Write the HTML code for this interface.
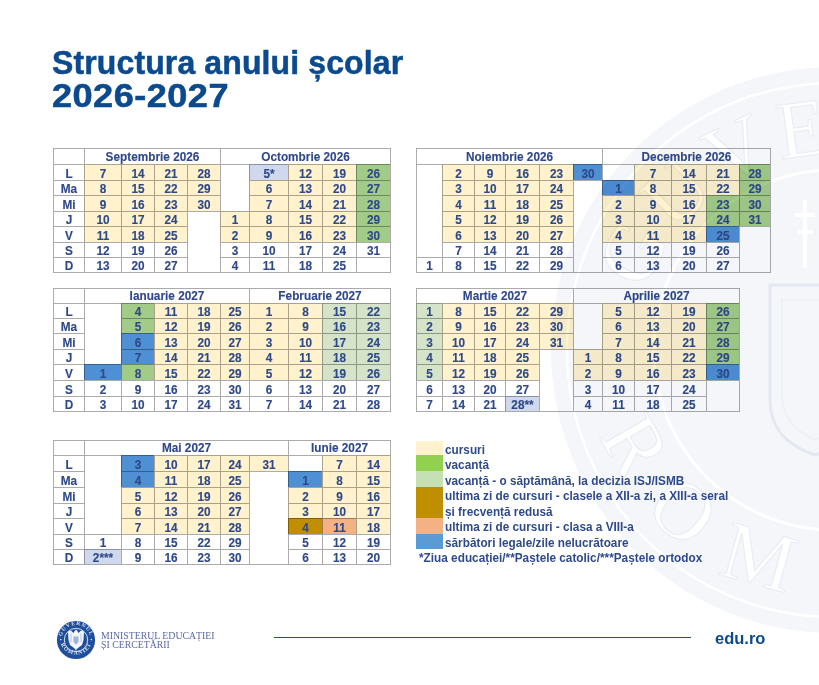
<!DOCTYPE html>
<html><head><meta charset="utf-8">
<style>
html,body{margin:0;padding:0;}
body{width:819px;height:685px;position:relative;overflow:hidden;background:#fff;font-family:"Liberation Sans",sans-serif;}
.c{position:absolute;box-sizing:border-box;mix-blend-mode:multiply;padding:1px 0 0 1px;color:#2E4888;-webkit-text-stroke:0.12px #2E4888;font-weight:bold;font-size:11.8px;text-align:center;white-space:nowrap;display:flex;align-items:center;justify-content:center;}
.c span{display:inline-block;transform:scaleY(1.08);}
.c:not(.h){padding-top:3px;}
.ln{position:absolute;background:rgba(0,0,0,0.33);}
.t{position:absolute;white-space:nowrap;}
.sw{position:absolute;left:416px;width:27px;mix-blend-mode:multiply;}
.lg{position:absolute;left:445px;color:#2F4A8A;font-weight:bold;font-size:11.8px;white-space:nowrap;line-height:15.5px;transform:scaleY(1.08);transform-origin:0 0;}
</style></head><body>

<svg style="position:absolute;left:0;top:0" width="819" height="685">
<defs><path id="arcT" d="M 638 350 A 196 196 0 0 1 1030 350"/><path id="arcB" d="M 587 350 A 247 247 0 0 0 1081 350"/></defs>
<circle cx="834" cy="350" r="283" fill="#F4F6FA"/>
<circle cx="834" cy="350" r="267" fill="none" stroke="#FFFFFF" stroke-width="2.5"/>
<circle cx="834" cy="350" r="180" fill="none" stroke="#FFFFFF" stroke-width="3"/>
<path d="M 770 285 L 860 285 L 860 400 Q 860 440 815 455 Q 770 440 770 400 Z" fill="none" stroke="#E4E8F0" stroke-width="3"/>
<path d="M 782 300 L 850 300 L 850 395 Q 850 425 815 440 Q 782 425 782 395 Z" fill="none" stroke="#EDF0F5" stroke-width="2"/>
<path d="M 805 200 L 805 268 M 795 215 L 815 215 M 797 232 L 813 232" stroke="#FFFFFF" stroke-width="4"/>
<text font-family="Liberation Serif" font-size="82" fill="#FFFFFF" stroke="#E9EDF4" stroke-width="1.2" letter-spacing="6" text-anchor="middle"><textPath href="#arcT" startOffset="50%">GUVERNUL</textPath></text>
<text font-family="Liberation Serif" font-size="82" fill="#FFFFFF" stroke="#E9EDF4" stroke-width="1.2" letter-spacing="34" text-anchor="middle"><textPath href="#arcB" startOffset="55%">ROMÂNIEI</textPath></text>
</svg>
<div class="t" style="left:52px;top:46.5px;font-size:32px;line-height:31.4px;font-weight:bold;color:#0B4A8E;-webkit-text-stroke:0.5px #0B4A8E;transform:scaleY(1.05);transform-origin:0 0;"><span style="letter-spacing:0.12px">Structura anului școlar</span><br><span style="display:inline-block;transform:scaleX(1.13);transform-origin:0 0;letter-spacing:0.4px">2026-2027</span></div>
<div class="c h" style="left:53px;top:148px;width:31px;height:16px;"><span></span></div>
<div class="c" style="left:53px;top:164px;width:31px;height:16px;"><span>L</span></div>
<div class="c" style="left:53px;top:180px;width:31px;height:15px;"><span>Ma</span></div>
<div class="c" style="left:53px;top:195px;width:31px;height:16px;"><span>Mi</span></div>
<div class="c" style="left:53px;top:211px;width:31px;height:15px;"><span>J</span></div>
<div class="c" style="left:53px;top:226px;width:31px;height:16px;"><span>V</span></div>
<div class="c" style="left:53px;top:242px;width:31px;height:15px;"><span>S</span></div>
<div class="c" style="left:53px;top:257px;width:31px;height:15px;"><span>D</span></div>
<div class="c h" style="left:84px;top:148px;width:136px;height:16px;"><span>Septembrie 2026</span></div>
<div class="c h" style="left:220px;top:148px;width:170px;height:16px;"><span>Octombrie 2026</span></div>
<div class="c" style="left:84px;top:164px;width:37px;height:16px;background:#FFF2CC;"><span>7</span></div>
<div class="c" style="left:84px;top:180px;width:37px;height:15px;background:#FFF2CC;"><span>8</span></div>
<div class="c" style="left:84px;top:195px;width:37px;height:16px;background:#FFF2CC;"><span>9</span></div>
<div class="c" style="left:84px;top:211px;width:37px;height:15px;background:#FFF2CC;"><span>10</span></div>
<div class="c" style="left:84px;top:226px;width:37px;height:16px;background:#FFF2CC;"><span>11</span></div>
<div class="c" style="left:84px;top:242px;width:37px;height:15px;"><span>12</span></div>
<div class="c" style="left:84px;top:257px;width:37px;height:15px;"><span>13</span></div>
<div class="c" style="left:121px;top:164px;width:33px;height:16px;background:#FFF2CC;"><span>14</span></div>
<div class="c" style="left:121px;top:180px;width:33px;height:15px;background:#FFF2CC;"><span>15</span></div>
<div class="c" style="left:121px;top:195px;width:33px;height:16px;background:#FFF2CC;"><span>16</span></div>
<div class="c" style="left:121px;top:211px;width:33px;height:15px;background:#FFF2CC;"><span>17</span></div>
<div class="c" style="left:121px;top:226px;width:33px;height:16px;background:#FFF2CC;"><span>18</span></div>
<div class="c" style="left:121px;top:242px;width:33px;height:15px;"><span>19</span></div>
<div class="c" style="left:121px;top:257px;width:33px;height:15px;"><span>20</span></div>
<div class="c" style="left:154px;top:164px;width:33px;height:16px;background:#FFF2CC;"><span>21</span></div>
<div class="c" style="left:154px;top:180px;width:33px;height:15px;background:#FFF2CC;"><span>22</span></div>
<div class="c" style="left:154px;top:195px;width:33px;height:16px;background:#FFF2CC;"><span>23</span></div>
<div class="c" style="left:154px;top:211px;width:33px;height:15px;background:#FFF2CC;"><span>24</span></div>
<div class="c" style="left:154px;top:226px;width:33px;height:16px;background:#FFF2CC;"><span>25</span></div>
<div class="c" style="left:154px;top:242px;width:33px;height:15px;"><span>26</span></div>
<div class="c" style="left:154px;top:257px;width:33px;height:15px;"><span>27</span></div>
<div class="c" style="left:187px;top:164px;width:33px;height:16px;background:#FFF2CC;"><span>28</span></div>
<div class="c" style="left:187px;top:180px;width:33px;height:15px;background:#FFF2CC;"><span>29</span></div>
<div class="c" style="left:187px;top:195px;width:33px;height:16px;background:#FFF2CC;"><span>30</span></div>
<div class="c" style="left:187px;top:211px;width:33px;height:61px;"><span></span></div>
<div class="c" style="left:220px;top:164px;width:29px;height:47px;"><span></span></div>
<div class="c" style="left:220px;top:211px;width:29px;height:15px;background:#FFF2CC;"><span>1</span></div>
<div class="c" style="left:220px;top:226px;width:29px;height:16px;background:#FFF2CC;"><span>2</span></div>
<div class="c" style="left:220px;top:242px;width:29px;height:15px;"><span>3</span></div>
<div class="c" style="left:220px;top:257px;width:29px;height:15px;"><span>4</span></div>
<div class="c" style="left:249px;top:164px;width:39px;height:16px;background:#D0D8EE;"><span>5*</span></div>
<div class="c" style="left:249px;top:180px;width:39px;height:15px;background:#FFF2CC;"><span>6</span></div>
<div class="c" style="left:249px;top:195px;width:39px;height:16px;background:#FFF2CC;"><span>7</span></div>
<div class="c" style="left:249px;top:211px;width:39px;height:15px;background:#FFF2CC;"><span>8</span></div>
<div class="c" style="left:249px;top:226px;width:39px;height:16px;background:#FFF2CC;"><span>9</span></div>
<div class="c" style="left:249px;top:242px;width:39px;height:15px;"><span>10</span></div>
<div class="c" style="left:249px;top:257px;width:39px;height:15px;"><span>11</span></div>
<div class="c" style="left:288px;top:164px;width:34px;height:16px;background:#FFF2CC;"><span>12</span></div>
<div class="c" style="left:288px;top:180px;width:34px;height:15px;background:#FFF2CC;"><span>13</span></div>
<div class="c" style="left:288px;top:195px;width:34px;height:16px;background:#FFF2CC;"><span>14</span></div>
<div class="c" style="left:288px;top:211px;width:34px;height:15px;background:#FFF2CC;"><span>15</span></div>
<div class="c" style="left:288px;top:226px;width:34px;height:16px;background:#FFF2CC;"><span>16</span></div>
<div class="c" style="left:288px;top:242px;width:34px;height:15px;"><span>17</span></div>
<div class="c" style="left:288px;top:257px;width:34px;height:15px;"><span>18</span></div>
<div class="c" style="left:322px;top:164px;width:34px;height:16px;background:#FFF2CC;"><span>19</span></div>
<div class="c" style="left:322px;top:180px;width:34px;height:15px;background:#FFF2CC;"><span>20</span></div>
<div class="c" style="left:322px;top:195px;width:34px;height:16px;background:#FFF2CC;"><span>21</span></div>
<div class="c" style="left:322px;top:211px;width:34px;height:15px;background:#FFF2CC;"><span>22</span></div>
<div class="c" style="left:322px;top:226px;width:34px;height:16px;background:#FFF2CC;"><span>23</span></div>
<div class="c" style="left:322px;top:242px;width:34px;height:15px;"><span>24</span></div>
<div class="c" style="left:322px;top:257px;width:34px;height:15px;"><span>25</span></div>
<div class="c" style="left:356px;top:164px;width:34px;height:16px;background:#A3CB88;"><span>26</span></div>
<div class="c" style="left:356px;top:180px;width:34px;height:15px;background:#A3CB88;"><span>27</span></div>
<div class="c" style="left:356px;top:195px;width:34px;height:16px;background:#A3CB88;"><span>28</span></div>
<div class="c" style="left:356px;top:211px;width:34px;height:15px;background:#A3CB88;"><span>29</span></div>
<div class="c" style="left:356px;top:226px;width:34px;height:16px;background:#A3CB88;"><span>30</span></div>
<div class="c" style="left:356px;top:242px;width:34px;height:15px;"><span>31</span></div>
<div class="c" style="left:356px;top:257px;width:34px;height:15px;"><span></span></div>
<div class="c h" style="left:416px;top:148px;width:186px;height:16px;"><span>Noiembrie 2026</span></div>
<div class="c h" style="left:602px;top:148px;width:168px;height:16px;"><span>Decembrie 2026</span></div>
<div class="c" style="left:416px;top:164px;width:26px;height:93px;"><span></span></div>
<div class="c" style="left:416px;top:257px;width:26px;height:15px;"><span>1</span></div>
<div class="c" style="left:442px;top:164px;width:32px;height:16px;background:#FFF2CC;"><span>2</span></div>
<div class="c" style="left:442px;top:180px;width:32px;height:15px;background:#FFF2CC;"><span>3</span></div>
<div class="c" style="left:442px;top:195px;width:32px;height:16px;background:#FFF2CC;"><span>4</span></div>
<div class="c" style="left:442px;top:211px;width:32px;height:15px;background:#FFF2CC;"><span>5</span></div>
<div class="c" style="left:442px;top:226px;width:32px;height:16px;background:#FFF2CC;"><span>6</span></div>
<div class="c" style="left:442px;top:242px;width:32px;height:15px;"><span>7</span></div>
<div class="c" style="left:442px;top:257px;width:32px;height:15px;"><span>8</span></div>
<div class="c" style="left:474px;top:164px;width:31px;height:16px;background:#FFF2CC;"><span>9</span></div>
<div class="c" style="left:474px;top:180px;width:31px;height:15px;background:#FFF2CC;"><span>10</span></div>
<div class="c" style="left:474px;top:195px;width:31px;height:16px;background:#FFF2CC;"><span>11</span></div>
<div class="c" style="left:474px;top:211px;width:31px;height:15px;background:#FFF2CC;"><span>12</span></div>
<div class="c" style="left:474px;top:226px;width:31px;height:16px;background:#FFF2CC;"><span>13</span></div>
<div class="c" style="left:474px;top:242px;width:31px;height:15px;"><span>14</span></div>
<div class="c" style="left:474px;top:257px;width:31px;height:15px;"><span>15</span></div>
<div class="c" style="left:505px;top:164px;width:34px;height:16px;background:#FFF2CC;"><span>16</span></div>
<div class="c" style="left:505px;top:180px;width:34px;height:15px;background:#FFF2CC;"><span>17</span></div>
<div class="c" style="left:505px;top:195px;width:34px;height:16px;background:#FFF2CC;"><span>18</span></div>
<div class="c" style="left:505px;top:211px;width:34px;height:15px;background:#FFF2CC;"><span>19</span></div>
<div class="c" style="left:505px;top:226px;width:34px;height:16px;background:#FFF2CC;"><span>20</span></div>
<div class="c" style="left:505px;top:242px;width:34px;height:15px;"><span>21</span></div>
<div class="c" style="left:505px;top:257px;width:34px;height:15px;"><span>22</span></div>
<div class="c" style="left:539px;top:164px;width:34px;height:16px;background:#FFF2CC;"><span>23</span></div>
<div class="c" style="left:539px;top:180px;width:34px;height:15px;background:#FFF2CC;"><span>24</span></div>
<div class="c" style="left:539px;top:195px;width:34px;height:16px;background:#FFF2CC;"><span>25</span></div>
<div class="c" style="left:539px;top:211px;width:34px;height:15px;background:#FFF2CC;"><span>26</span></div>
<div class="c" style="left:539px;top:226px;width:34px;height:16px;background:#FFF2CC;"><span>27</span></div>
<div class="c" style="left:539px;top:242px;width:34px;height:15px;"><span>28</span></div>
<div class="c" style="left:539px;top:257px;width:34px;height:15px;"><span>29</span></div>
<div class="c" style="left:573px;top:164px;width:29px;height:16px;background:#4F8FD4;"><span>30</span></div>
<div class="c" style="left:573px;top:180px;width:29px;height:92px;"><span></span></div>
<div class="c" style="left:602px;top:164px;width:32px;height:16px;"><span></span></div>
<div class="c" style="left:602px;top:180px;width:32px;height:15px;background:#4F8FD4;"><span>1</span></div>
<div class="c" style="left:602px;top:195px;width:32px;height:16px;background:#FFF2CC;"><span>2</span></div>
<div class="c" style="left:602px;top:211px;width:32px;height:15px;background:#FFF2CC;"><span>3</span></div>
<div class="c" style="left:602px;top:226px;width:32px;height:16px;background:#FFF2CC;"><span>4</span></div>
<div class="c" style="left:602px;top:242px;width:32px;height:15px;"><span>5</span></div>
<div class="c" style="left:602px;top:257px;width:32px;height:15px;"><span>6</span></div>
<div class="c" style="left:634px;top:164px;width:37px;height:16px;background:#FFF2CC;"><span>7</span></div>
<div class="c" style="left:634px;top:180px;width:37px;height:15px;background:#FFF2CC;"><span>8</span></div>
<div class="c" style="left:634px;top:195px;width:37px;height:16px;background:#FFF2CC;"><span>9</span></div>
<div class="c" style="left:634px;top:211px;width:37px;height:15px;background:#FFF2CC;"><span>10</span></div>
<div class="c" style="left:634px;top:226px;width:37px;height:16px;background:#FFF2CC;"><span>11</span></div>
<div class="c" style="left:634px;top:242px;width:37px;height:15px;"><span>12</span></div>
<div class="c" style="left:634px;top:257px;width:37px;height:15px;"><span>13</span></div>
<div class="c" style="left:671px;top:164px;width:35px;height:16px;background:#FFF2CC;"><span>14</span></div>
<div class="c" style="left:671px;top:180px;width:35px;height:15px;background:#FFF2CC;"><span>15</span></div>
<div class="c" style="left:671px;top:195px;width:35px;height:16px;background:#FFF2CC;"><span>16</span></div>
<div class="c" style="left:671px;top:211px;width:35px;height:15px;background:#FFF2CC;"><span>17</span></div>
<div class="c" style="left:671px;top:226px;width:35px;height:16px;background:#FFF2CC;"><span>18</span></div>
<div class="c" style="left:671px;top:242px;width:35px;height:15px;"><span>19</span></div>
<div class="c" style="left:671px;top:257px;width:35px;height:15px;"><span>20</span></div>
<div class="c" style="left:706px;top:164px;width:33px;height:16px;background:#FFF2CC;"><span>21</span></div>
<div class="c" style="left:706px;top:180px;width:33px;height:15px;background:#FFF2CC;"><span>22</span></div>
<div class="c" style="left:706px;top:195px;width:33px;height:16px;background:#A3CB88;"><span>23</span></div>
<div class="c" style="left:706px;top:211px;width:33px;height:15px;background:#A3CB88;"><span>24</span></div>
<div class="c" style="left:706px;top:226px;width:33px;height:16px;background:#4F8FD4;"><span>25</span></div>
<div class="c" style="left:706px;top:242px;width:33px;height:15px;"><span>26</span></div>
<div class="c" style="left:706px;top:257px;width:33px;height:15px;"><span>27</span></div>
<div class="c" style="left:739px;top:164px;width:31px;height:16px;background:#A3CB88;"><span>28</span></div>
<div class="c" style="left:739px;top:180px;width:31px;height:15px;background:#A3CB88;"><span>29</span></div>
<div class="c" style="left:739px;top:195px;width:31px;height:16px;background:#A3CB88;"><span>30</span></div>
<div class="c" style="left:739px;top:211px;width:31px;height:15px;background:#A3CB88;"><span>31</span></div>
<div class="c" style="left:739px;top:226px;width:31px;height:46px;"><span></span></div>
<div class="c h" style="left:53px;top:288px;width:31px;height:15px;"><span></span></div>
<div class="c" style="left:53px;top:303px;width:31px;height:15px;"><span>L</span></div>
<div class="c" style="left:53px;top:318px;width:31px;height:15px;"><span>Ma</span></div>
<div class="c" style="left:53px;top:333px;width:31px;height:16px;"><span>Mi</span></div>
<div class="c" style="left:53px;top:349px;width:31px;height:15px;"><span>J</span></div>
<div class="c" style="left:53px;top:364px;width:31px;height:16px;"><span>V</span></div>
<div class="c" style="left:53px;top:380px;width:31px;height:16px;"><span>S</span></div>
<div class="c" style="left:53px;top:396px;width:31px;height:15px;"><span>D</span></div>
<div class="c h" style="left:84px;top:288px;width:165px;height:15px;"><span>Ianuarie 2027</span></div>
<div class="c h" style="left:249px;top:288px;width:141px;height:15px;"><span>Februarie 2027</span></div>
<div class="c" style="left:84px;top:303px;width:37px;height:61px;"><span></span></div>
<div class="c" style="left:84px;top:364px;width:37px;height:16px;background:#4F8FD4;"><span>1</span></div>
<div class="c" style="left:84px;top:380px;width:37px;height:16px;"><span>2</span></div>
<div class="c" style="left:84px;top:396px;width:37px;height:15px;"><span>3</span></div>
<div class="c" style="left:121px;top:303px;width:33px;height:15px;background:#A3CB88;"><span>4</span></div>
<div class="c" style="left:121px;top:318px;width:33px;height:15px;background:#A3CB88;"><span>5</span></div>
<div class="c" style="left:121px;top:333px;width:33px;height:16px;background:#4F8FD4;"><span>6</span></div>
<div class="c" style="left:121px;top:349px;width:33px;height:15px;background:#4F8FD4;"><span>7</span></div>
<div class="c" style="left:121px;top:364px;width:33px;height:16px;background:#A3CB88;"><span>8</span></div>
<div class="c" style="left:121px;top:380px;width:33px;height:16px;"><span>9</span></div>
<div class="c" style="left:121px;top:396px;width:33px;height:15px;"><span>10</span></div>
<div class="c" style="left:154px;top:303px;width:33px;height:15px;background:#FFF2CC;"><span>11</span></div>
<div class="c" style="left:154px;top:318px;width:33px;height:15px;background:#FFF2CC;"><span>12</span></div>
<div class="c" style="left:154px;top:333px;width:33px;height:16px;background:#FFF2CC;"><span>13</span></div>
<div class="c" style="left:154px;top:349px;width:33px;height:15px;background:#FFF2CC;"><span>14</span></div>
<div class="c" style="left:154px;top:364px;width:33px;height:16px;background:#FFF2CC;"><span>15</span></div>
<div class="c" style="left:154px;top:380px;width:33px;height:16px;"><span>16</span></div>
<div class="c" style="left:154px;top:396px;width:33px;height:15px;"><span>17</span></div>
<div class="c" style="left:187px;top:303px;width:33px;height:15px;background:#FFF2CC;"><span>18</span></div>
<div class="c" style="left:187px;top:318px;width:33px;height:15px;background:#FFF2CC;"><span>19</span></div>
<div class="c" style="left:187px;top:333px;width:33px;height:16px;background:#FFF2CC;"><span>20</span></div>
<div class="c" style="left:187px;top:349px;width:33px;height:15px;background:#FFF2CC;"><span>21</span></div>
<div class="c" style="left:187px;top:364px;width:33px;height:16px;background:#FFF2CC;"><span>22</span></div>
<div class="c" style="left:187px;top:380px;width:33px;height:16px;"><span>23</span></div>
<div class="c" style="left:187px;top:396px;width:33px;height:15px;"><span>24</span></div>
<div class="c" style="left:220px;top:303px;width:29px;height:15px;background:#FFF2CC;"><span>25</span></div>
<div class="c" style="left:220px;top:318px;width:29px;height:15px;background:#FFF2CC;"><span>26</span></div>
<div class="c" style="left:220px;top:333px;width:29px;height:16px;background:#FFF2CC;"><span>27</span></div>
<div class="c" style="left:220px;top:349px;width:29px;height:15px;background:#FFF2CC;"><span>28</span></div>
<div class="c" style="left:220px;top:364px;width:29px;height:16px;background:#FFF2CC;"><span>29</span></div>
<div class="c" style="left:220px;top:380px;width:29px;height:16px;"><span>30</span></div>
<div class="c" style="left:220px;top:396px;width:29px;height:15px;"><span>31</span></div>
<div class="c" style="left:249px;top:303px;width:39px;height:15px;background:#FFF2CC;"><span>1</span></div>
<div class="c" style="left:249px;top:318px;width:39px;height:15px;background:#FFF2CC;"><span>2</span></div>
<div class="c" style="left:249px;top:333px;width:39px;height:16px;background:#FFF2CC;"><span>3</span></div>
<div class="c" style="left:249px;top:349px;width:39px;height:15px;background:#FFF2CC;"><span>4</span></div>
<div class="c" style="left:249px;top:364px;width:39px;height:16px;background:#FFF2CC;"><span>5</span></div>
<div class="c" style="left:249px;top:380px;width:39px;height:16px;"><span>6</span></div>
<div class="c" style="left:249px;top:396px;width:39px;height:15px;"><span>7</span></div>
<div class="c" style="left:288px;top:303px;width:34px;height:15px;background:#FFF2CC;"><span>8</span></div>
<div class="c" style="left:288px;top:318px;width:34px;height:15px;background:#FFF2CC;"><span>9</span></div>
<div class="c" style="left:288px;top:333px;width:34px;height:16px;background:#FFF2CC;"><span>10</span></div>
<div class="c" style="left:288px;top:349px;width:34px;height:15px;background:#FFF2CC;"><span>11</span></div>
<div class="c" style="left:288px;top:364px;width:34px;height:16px;background:#FFF2CC;"><span>12</span></div>
<div class="c" style="left:288px;top:380px;width:34px;height:16px;"><span>13</span></div>
<div class="c" style="left:288px;top:396px;width:34px;height:15px;"><span>14</span></div>
<div class="c" style="left:322px;top:303px;width:34px;height:15px;background:#D5E3C8;"><span>15</span></div>
<div class="c" style="left:322px;top:318px;width:34px;height:15px;background:#D5E3C8;"><span>16</span></div>
<div class="c" style="left:322px;top:333px;width:34px;height:16px;background:#D5E3C8;"><span>17</span></div>
<div class="c" style="left:322px;top:349px;width:34px;height:15px;background:#D5E3C8;"><span>18</span></div>
<div class="c" style="left:322px;top:364px;width:34px;height:16px;background:#D5E3C8;"><span>19</span></div>
<div class="c" style="left:322px;top:380px;width:34px;height:16px;"><span>20</span></div>
<div class="c" style="left:322px;top:396px;width:34px;height:15px;"><span>21</span></div>
<div class="c" style="left:356px;top:303px;width:34px;height:15px;background:#D5E3C8;"><span>22</span></div>
<div class="c" style="left:356px;top:318px;width:34px;height:15px;background:#D5E3C8;"><span>23</span></div>
<div class="c" style="left:356px;top:333px;width:34px;height:16px;background:#D5E3C8;"><span>24</span></div>
<div class="c" style="left:356px;top:349px;width:34px;height:15px;background:#D5E3C8;"><span>25</span></div>
<div class="c" style="left:356px;top:364px;width:34px;height:16px;background:#D5E3C8;"><span>26</span></div>
<div class="c" style="left:356px;top:380px;width:34px;height:16px;"><span>27</span></div>
<div class="c" style="left:356px;top:396px;width:34px;height:15px;"><span>28</span></div>
<div class="c h" style="left:416px;top:288px;width:157px;height:15px;"><span>Martie 2027</span></div>
<div class="c h" style="left:573px;top:288px;width:166px;height:15px;"><span>Aprilie 2027</span></div>
<div class="c" style="left:416px;top:303px;width:26px;height:15px;background:#D5E3C8;"><span>1</span></div>
<div class="c" style="left:416px;top:318px;width:26px;height:15px;background:#D5E3C8;"><span>2</span></div>
<div class="c" style="left:416px;top:333px;width:26px;height:16px;background:#D5E3C8;"><span>3</span></div>
<div class="c" style="left:416px;top:349px;width:26px;height:15px;background:#D5E3C8;"><span>4</span></div>
<div class="c" style="left:416px;top:364px;width:26px;height:16px;background:#D5E3C8;"><span>5</span></div>
<div class="c" style="left:416px;top:380px;width:26px;height:16px;"><span>6</span></div>
<div class="c" style="left:416px;top:396px;width:26px;height:15px;"><span>7</span></div>
<div class="c" style="left:442px;top:303px;width:32px;height:15px;background:#FFF2CC;"><span>8</span></div>
<div class="c" style="left:442px;top:318px;width:32px;height:15px;background:#FFF2CC;"><span>9</span></div>
<div class="c" style="left:442px;top:333px;width:32px;height:16px;background:#FFF2CC;"><span>10</span></div>
<div class="c" style="left:442px;top:349px;width:32px;height:15px;background:#FFF2CC;"><span>11</span></div>
<div class="c" style="left:442px;top:364px;width:32px;height:16px;background:#FFF2CC;"><span>12</span></div>
<div class="c" style="left:442px;top:380px;width:32px;height:16px;"><span>13</span></div>
<div class="c" style="left:442px;top:396px;width:32px;height:15px;"><span>14</span></div>
<div class="c" style="left:474px;top:303px;width:31px;height:15px;background:#FFF2CC;"><span>15</span></div>
<div class="c" style="left:474px;top:318px;width:31px;height:15px;background:#FFF2CC;"><span>16</span></div>
<div class="c" style="left:474px;top:333px;width:31px;height:16px;background:#FFF2CC;"><span>17</span></div>
<div class="c" style="left:474px;top:349px;width:31px;height:15px;background:#FFF2CC;"><span>18</span></div>
<div class="c" style="left:474px;top:364px;width:31px;height:16px;background:#FFF2CC;"><span>19</span></div>
<div class="c" style="left:474px;top:380px;width:31px;height:16px;"><span>20</span></div>
<div class="c" style="left:474px;top:396px;width:31px;height:15px;"><span>21</span></div>
<div class="c" style="left:505px;top:303px;width:34px;height:15px;background:#FFF2CC;"><span>22</span></div>
<div class="c" style="left:505px;top:318px;width:34px;height:15px;background:#FFF2CC;"><span>23</span></div>
<div class="c" style="left:505px;top:333px;width:34px;height:16px;background:#FFF2CC;"><span>24</span></div>
<div class="c" style="left:505px;top:349px;width:34px;height:15px;background:#FFF2CC;"><span>25</span></div>
<div class="c" style="left:505px;top:364px;width:34px;height:16px;background:#FFF2CC;"><span>26</span></div>
<div class="c" style="left:505px;top:380px;width:34px;height:16px;"><span>27</span></div>
<div class="c" style="left:505px;top:396px;width:34px;height:15px;background:#D0D8EE;"><span>28**</span></div>
<div class="c" style="left:539px;top:303px;width:34px;height:15px;background:#FFF2CC;"><span>29</span></div>
<div class="c" style="left:539px;top:318px;width:34px;height:15px;background:#FFF2CC;"><span>30</span></div>
<div class="c" style="left:539px;top:333px;width:34px;height:16px;background:#FFF2CC;"><span>31</span></div>
<div class="c" style="left:539px;top:349px;width:34px;height:62px;"><span></span></div>
<div class="c" style="left:573px;top:303px;width:29px;height:46px;"><span></span></div>
<div class="c" style="left:573px;top:349px;width:29px;height:15px;background:#FFF2CC;"><span>1</span></div>
<div class="c" style="left:573px;top:364px;width:29px;height:16px;background:#FFF2CC;"><span>2</span></div>
<div class="c" style="left:573px;top:380px;width:29px;height:16px;"><span>3</span></div>
<div class="c" style="left:573px;top:396px;width:29px;height:15px;"><span>4</span></div>
<div class="c" style="left:602px;top:303px;width:32px;height:15px;background:#FFF2CC;"><span>5</span></div>
<div class="c" style="left:602px;top:318px;width:32px;height:15px;background:#FFF2CC;"><span>6</span></div>
<div class="c" style="left:602px;top:333px;width:32px;height:16px;background:#FFF2CC;"><span>7</span></div>
<div class="c" style="left:602px;top:349px;width:32px;height:15px;background:#FFF2CC;"><span>8</span></div>
<div class="c" style="left:602px;top:364px;width:32px;height:16px;background:#FFF2CC;"><span>9</span></div>
<div class="c" style="left:602px;top:380px;width:32px;height:16px;"><span>10</span></div>
<div class="c" style="left:602px;top:396px;width:32px;height:15px;"><span>11</span></div>
<div class="c" style="left:634px;top:303px;width:37px;height:15px;background:#FFF2CC;"><span>12</span></div>
<div class="c" style="left:634px;top:318px;width:37px;height:15px;background:#FFF2CC;"><span>13</span></div>
<div class="c" style="left:634px;top:333px;width:37px;height:16px;background:#FFF2CC;"><span>14</span></div>
<div class="c" style="left:634px;top:349px;width:37px;height:15px;background:#FFF2CC;"><span>15</span></div>
<div class="c" style="left:634px;top:364px;width:37px;height:16px;background:#FFF2CC;"><span>16</span></div>
<div class="c" style="left:634px;top:380px;width:37px;height:16px;"><span>17</span></div>
<div class="c" style="left:634px;top:396px;width:37px;height:15px;"><span>18</span></div>
<div class="c" style="left:671px;top:303px;width:35px;height:15px;background:#FFF2CC;"><span>19</span></div>
<div class="c" style="left:671px;top:318px;width:35px;height:15px;background:#FFF2CC;"><span>20</span></div>
<div class="c" style="left:671px;top:333px;width:35px;height:16px;background:#FFF2CC;"><span>21</span></div>
<div class="c" style="left:671px;top:349px;width:35px;height:15px;background:#FFF2CC;"><span>22</span></div>
<div class="c" style="left:671px;top:364px;width:35px;height:16px;background:#FFF2CC;"><span>23</span></div>
<div class="c" style="left:671px;top:380px;width:35px;height:16px;"><span>24</span></div>
<div class="c" style="left:671px;top:396px;width:35px;height:15px;"><span>25</span></div>
<div class="c" style="left:706px;top:303px;width:33px;height:15px;background:#A3CB88;"><span>26</span></div>
<div class="c" style="left:706px;top:318px;width:33px;height:15px;background:#A3CB88;"><span>27</span></div>
<div class="c" style="left:706px;top:333px;width:33px;height:16px;background:#A3CB88;"><span>28</span></div>
<div class="c" style="left:706px;top:349px;width:33px;height:15px;background:#A3CB88;"><span>29</span></div>
<div class="c" style="left:706px;top:364px;width:33px;height:16px;background:#4F8FD4;"><span>30</span></div>
<div class="c" style="left:706px;top:380px;width:33px;height:31px;"><span></span></div>
<div class="c h" style="left:53px;top:440px;width:31px;height:15px;"><span></span></div>
<div class="c" style="left:53px;top:455px;width:31px;height:16px;"><span>L</span></div>
<div class="c" style="left:53px;top:471px;width:31px;height:16px;"><span>Ma</span></div>
<div class="c" style="left:53px;top:487px;width:31px;height:16px;"><span>Mi</span></div>
<div class="c" style="left:53px;top:503px;width:31px;height:15px;"><span>J</span></div>
<div class="c" style="left:53px;top:518px;width:31px;height:16px;"><span>V</span></div>
<div class="c" style="left:53px;top:534px;width:31px;height:15px;"><span>S</span></div>
<div class="c" style="left:53px;top:549px;width:31px;height:15px;"><span>D</span></div>
<div class="c h" style="left:84px;top:440px;width:204px;height:15px;"><span>Mai 2027</span></div>
<div class="c h" style="left:288px;top:440px;width:102px;height:15px;"><span>Iunie 2027</span></div>
<div class="c" style="left:84px;top:455px;width:37px;height:79px;"><span></span></div>
<div class="c" style="left:84px;top:534px;width:37px;height:15px;"><span>1</span></div>
<div class="c" style="left:84px;top:549px;width:37px;height:15px;background:#D0D8EE;"><span>2***</span></div>
<div class="c" style="left:121px;top:455px;width:33px;height:16px;background:#4F8FD4;"><span>3</span></div>
<div class="c" style="left:121px;top:471px;width:33px;height:16px;background:#4F8FD4;"><span>4</span></div>
<div class="c" style="left:121px;top:487px;width:33px;height:16px;background:#FFF2CC;"><span>5</span></div>
<div class="c" style="left:121px;top:503px;width:33px;height:15px;background:#FFF2CC;"><span>6</span></div>
<div class="c" style="left:121px;top:518px;width:33px;height:16px;background:#FFF2CC;"><span>7</span></div>
<div class="c" style="left:121px;top:534px;width:33px;height:15px;"><span>8</span></div>
<div class="c" style="left:121px;top:549px;width:33px;height:15px;"><span>9</span></div>
<div class="c" style="left:154px;top:455px;width:33px;height:16px;background:#FFF2CC;"><span>10</span></div>
<div class="c" style="left:154px;top:471px;width:33px;height:16px;background:#FFF2CC;"><span>11</span></div>
<div class="c" style="left:154px;top:487px;width:33px;height:16px;background:#FFF2CC;"><span>12</span></div>
<div class="c" style="left:154px;top:503px;width:33px;height:15px;background:#FFF2CC;"><span>13</span></div>
<div class="c" style="left:154px;top:518px;width:33px;height:16px;background:#FFF2CC;"><span>14</span></div>
<div class="c" style="left:154px;top:534px;width:33px;height:15px;"><span>15</span></div>
<div class="c" style="left:154px;top:549px;width:33px;height:15px;"><span>16</span></div>
<div class="c" style="left:187px;top:455px;width:33px;height:16px;background:#FFF2CC;"><span>17</span></div>
<div class="c" style="left:187px;top:471px;width:33px;height:16px;background:#FFF2CC;"><span>18</span></div>
<div class="c" style="left:187px;top:487px;width:33px;height:16px;background:#FFF2CC;"><span>19</span></div>
<div class="c" style="left:187px;top:503px;width:33px;height:15px;background:#FFF2CC;"><span>20</span></div>
<div class="c" style="left:187px;top:518px;width:33px;height:16px;background:#FFF2CC;"><span>21</span></div>
<div class="c" style="left:187px;top:534px;width:33px;height:15px;"><span>22</span></div>
<div class="c" style="left:187px;top:549px;width:33px;height:15px;"><span>23</span></div>
<div class="c" style="left:220px;top:455px;width:29px;height:16px;background:#FFF2CC;"><span>24</span></div>
<div class="c" style="left:220px;top:471px;width:29px;height:16px;background:#FFF2CC;"><span>25</span></div>
<div class="c" style="left:220px;top:487px;width:29px;height:16px;background:#FFF2CC;"><span>26</span></div>
<div class="c" style="left:220px;top:503px;width:29px;height:15px;background:#FFF2CC;"><span>27</span></div>
<div class="c" style="left:220px;top:518px;width:29px;height:16px;background:#FFF2CC;"><span>28</span></div>
<div class="c" style="left:220px;top:534px;width:29px;height:15px;"><span>29</span></div>
<div class="c" style="left:220px;top:549px;width:29px;height:15px;"><span>30</span></div>
<div class="c" style="left:249px;top:455px;width:39px;height:16px;background:#FFF2CC;"><span>31</span></div>
<div class="c" style="left:249px;top:471px;width:39px;height:93px;"><span></span></div>
<div class="c" style="left:288px;top:455px;width:34px;height:16px;"><span></span></div>
<div class="c" style="left:288px;top:471px;width:34px;height:16px;background:#4F8FD4;"><span>1</span></div>
<div class="c" style="left:288px;top:487px;width:34px;height:16px;background:#FFF2CC;"><span>2</span></div>
<div class="c" style="left:288px;top:503px;width:34px;height:15px;background:#FFF2CC;"><span>3</span></div>
<div class="c" style="left:288px;top:518px;width:34px;height:16px;background:#BF8F00;"><span>4</span></div>
<div class="c" style="left:288px;top:534px;width:34px;height:15px;"><span>5</span></div>
<div class="c" style="left:288px;top:549px;width:34px;height:15px;"><span>6</span></div>
<div class="c" style="left:322px;top:455px;width:34px;height:16px;background:#FFF2CC;"><span>7</span></div>
<div class="c" style="left:322px;top:471px;width:34px;height:16px;background:#FFF2CC;"><span>8</span></div>
<div class="c" style="left:322px;top:487px;width:34px;height:16px;background:#FFF2CC;"><span>9</span></div>
<div class="c" style="left:322px;top:503px;width:34px;height:15px;background:#FFF2CC;"><span>10</span></div>
<div class="c" style="left:322px;top:518px;width:34px;height:16px;background:#F4B183;"><span>11</span></div>
<div class="c" style="left:322px;top:534px;width:34px;height:15px;"><span>12</span></div>
<div class="c" style="left:322px;top:549px;width:34px;height:15px;"><span>13</span></div>
<div class="c" style="left:356px;top:455px;width:34px;height:16px;background:#FFF2CC;"><span>14</span></div>
<div class="c" style="left:356px;top:471px;width:34px;height:16px;background:#FFF2CC;"><span>15</span></div>
<div class="c" style="left:356px;top:487px;width:34px;height:16px;background:#FFF2CC;"><span>16</span></div>
<div class="c" style="left:356px;top:503px;width:34px;height:15px;background:#FFF2CC;"><span>17</span></div>
<div class="c" style="left:356px;top:518px;width:34px;height:16px;background:#FFF2CC;"><span>18</span></div>
<div class="c" style="left:356px;top:534px;width:34px;height:15px;"><span>19</span></div>
<div class="c" style="left:356px;top:549px;width:34px;height:15px;"><span>20</span></div>
<div class="ln" style="left:53px;top:211px;width:338px;height:1px"></div>
<div class="ln" style="left:442px;top:211px;width:132px;height:1px"></div>
<div class="ln" style="left:602px;top:211px;width:169px;height:1px"></div>
<div class="ln" style="left:53px;top:380px;width:338px;height:1px"></div>
<div class="ln" style="left:416px;top:380px;width:124px;height:1px"></div>
<div class="ln" style="left:573px;top:380px;width:167px;height:1px"></div>
<div class="ln" style="left:53px;top:396px;width:338px;height:1px"></div>
<div class="ln" style="left:416px;top:396px;width:124px;height:1px"></div>
<div class="ln" style="left:573px;top:396px;width:134px;height:1px"></div>
<div class="ln" style="left:53px;top:148px;width:338px;height:1px"></div>
<div class="ln" style="left:416px;top:148px;width:355px;height:1px"></div>
<div class="ln" style="left:53px;top:440px;width:338px;height:1px"></div>
<div class="ln" style="left:53px;top:318px;width:32px;height:1px"></div>
<div class="ln" style="left:121px;top:318px;width:270px;height:1px"></div>
<div class="ln" style="left:416px;top:318px;width:158px;height:1px"></div>
<div class="ln" style="left:602px;top:318px;width:138px;height:1px"></div>
<div class="ln" style="left:53px;top:564px;width:338px;height:1px"></div>
<div class="ln" style="left:53px;top:333px;width:32px;height:1px"></div>
<div class="ln" style="left:121px;top:333px;width:270px;height:1px"></div>
<div class="ln" style="left:416px;top:333px;width:158px;height:1px"></div>
<div class="ln" style="left:602px;top:333px;width:138px;height:1px"></div>
<div class="ln" style="left:53px;top:272px;width:338px;height:1px"></div>
<div class="ln" style="left:416px;top:272px;width:355px;height:1px"></div>
<div class="ln" style="left:53px;top:164px;width:338px;height:1px"></div>
<div class="ln" style="left:416px;top:164px;width:355px;height:1px"></div>
<div class="ln" style="left:53px;top:195px;width:168px;height:1px"></div>
<div class="ln" style="left:249px;top:195px;width:142px;height:1px"></div>
<div class="ln" style="left:442px;top:195px;width:132px;height:1px"></div>
<div class="ln" style="left:602px;top:195px;width:169px;height:1px"></div>
<div class="ln" style="left:53px;top:349px;width:32px;height:1px"></div>
<div class="ln" style="left:121px;top:349px;width:270px;height:1px"></div>
<div class="ln" style="left:416px;top:349px;width:324px;height:1px"></div>
<div class="ln" style="left:53px;top:226px;width:135px;height:1px"></div>
<div class="ln" style="left:220px;top:226px;width:171px;height:1px"></div>
<div class="ln" style="left:442px;top:226px;width:132px;height:1px"></div>
<div class="ln" style="left:602px;top:226px;width:169px;height:1px"></div>
<div class="ln" style="left:53px;top:288px;width:338px;height:1px"></div>
<div class="ln" style="left:416px;top:288px;width:324px;height:1px"></div>
<div class="ln" style="left:53px;top:503px;width:32px;height:1px"></div>
<div class="ln" style="left:121px;top:503px;width:129px;height:1px"></div>
<div class="ln" style="left:288px;top:503px;width:103px;height:1px"></div>
<div class="ln" style="left:53px;top:411px;width:338px;height:1px"></div>
<div class="ln" style="left:416px;top:411px;width:324px;height:1px"></div>
<div class="ln" style="left:53px;top:242px;width:135px;height:1px"></div>
<div class="ln" style="left:220px;top:242px;width:171px;height:1px"></div>
<div class="ln" style="left:442px;top:242px;width:132px;height:1px"></div>
<div class="ln" style="left:602px;top:242px;width:138px;height:1px"></div>
<div class="ln" style="left:53px;top:455px;width:338px;height:1px"></div>
<div class="ln" style="left:53px;top:471px;width:32px;height:1px"></div>
<div class="ln" style="left:121px;top:471px;width:270px;height:1px"></div>
<div class="ln" style="left:53px;top:364px;width:338px;height:1px"></div>
<div class="ln" style="left:416px;top:364px;width:124px;height:1px"></div>
<div class="ln" style="left:573px;top:364px;width:167px;height:1px"></div>
<div class="ln" style="left:53px;top:303px;width:338px;height:1px"></div>
<div class="ln" style="left:416px;top:303px;width:324px;height:1px"></div>
<div class="ln" style="left:53px;top:534px;width:197px;height:1px"></div>
<div class="ln" style="left:288px;top:534px;width:103px;height:1px"></div>
<div class="ln" style="left:53px;top:180px;width:168px;height:1px"></div>
<div class="ln" style="left:249px;top:180px;width:142px;height:1px"></div>
<div class="ln" style="left:442px;top:180px;width:329px;height:1px"></div>
<div class="ln" style="left:53px;top:257px;width:135px;height:1px"></div>
<div class="ln" style="left:220px;top:257px;width:171px;height:1px"></div>
<div class="ln" style="left:416px;top:257px;width:158px;height:1px"></div>
<div class="ln" style="left:602px;top:257px;width:138px;height:1px"></div>
<div class="ln" style="left:53px;top:487px;width:32px;height:1px"></div>
<div class="ln" style="left:121px;top:487px;width:129px;height:1px"></div>
<div class="ln" style="left:288px;top:487px;width:103px;height:1px"></div>
<div class="ln" style="left:53px;top:549px;width:197px;height:1px"></div>
<div class="ln" style="left:288px;top:549px;width:103px;height:1px"></div>
<div class="ln" style="left:53px;top:518px;width:32px;height:1px"></div>
<div class="ln" style="left:121px;top:518px;width:129px;height:1px"></div>
<div class="ln" style="left:288px;top:518px;width:103px;height:1px"></div>
<div class="ln" style="left:416px;top:149px;width:1px;height:15px"></div>
<div class="ln" style="left:416px;top:165px;width:1px;height:92px"></div>
<div class="ln" style="left:416px;top:258px;width:1px;height:14px"></div>
<div class="ln" style="left:416px;top:289px;width:1px;height:14px"></div>
<div class="ln" style="left:416px;top:304px;width:1px;height:14px"></div>
<div class="ln" style="left:416px;top:319px;width:1px;height:14px"></div>
<div class="ln" style="left:416px;top:334px;width:1px;height:15px"></div>
<div class="ln" style="left:416px;top:350px;width:1px;height:14px"></div>
<div class="ln" style="left:416px;top:365px;width:1px;height:15px"></div>
<div class="ln" style="left:416px;top:381px;width:1px;height:15px"></div>
<div class="ln" style="left:416px;top:397px;width:1px;height:14px"></div>
<div class="ln" style="left:53px;top:149px;width:1px;height:15px"></div>
<div class="ln" style="left:53px;top:165px;width:1px;height:15px"></div>
<div class="ln" style="left:53px;top:181px;width:1px;height:14px"></div>
<div class="ln" style="left:53px;top:196px;width:1px;height:15px"></div>
<div class="ln" style="left:53px;top:212px;width:1px;height:14px"></div>
<div class="ln" style="left:53px;top:227px;width:1px;height:15px"></div>
<div class="ln" style="left:53px;top:243px;width:1px;height:14px"></div>
<div class="ln" style="left:53px;top:258px;width:1px;height:14px"></div>
<div class="ln" style="left:53px;top:289px;width:1px;height:14px"></div>
<div class="ln" style="left:53px;top:304px;width:1px;height:14px"></div>
<div class="ln" style="left:53px;top:319px;width:1px;height:14px"></div>
<div class="ln" style="left:53px;top:334px;width:1px;height:15px"></div>
<div class="ln" style="left:53px;top:350px;width:1px;height:14px"></div>
<div class="ln" style="left:53px;top:365px;width:1px;height:15px"></div>
<div class="ln" style="left:53px;top:381px;width:1px;height:15px"></div>
<div class="ln" style="left:53px;top:397px;width:1px;height:14px"></div>
<div class="ln" style="left:53px;top:441px;width:1px;height:14px"></div>
<div class="ln" style="left:53px;top:456px;width:1px;height:15px"></div>
<div class="ln" style="left:53px;top:472px;width:1px;height:15px"></div>
<div class="ln" style="left:53px;top:488px;width:1px;height:15px"></div>
<div class="ln" style="left:53px;top:504px;width:1px;height:14px"></div>
<div class="ln" style="left:53px;top:519px;width:1px;height:15px"></div>
<div class="ln" style="left:53px;top:535px;width:1px;height:14px"></div>
<div class="ln" style="left:53px;top:550px;width:1px;height:14px"></div>
<div class="ln" style="left:84px;top:149px;width:1px;height:15px"></div>
<div class="ln" style="left:84px;top:165px;width:1px;height:15px"></div>
<div class="ln" style="left:84px;top:181px;width:1px;height:14px"></div>
<div class="ln" style="left:84px;top:196px;width:1px;height:15px"></div>
<div class="ln" style="left:84px;top:212px;width:1px;height:14px"></div>
<div class="ln" style="left:84px;top:227px;width:1px;height:15px"></div>
<div class="ln" style="left:84px;top:243px;width:1px;height:14px"></div>
<div class="ln" style="left:84px;top:258px;width:1px;height:14px"></div>
<div class="ln" style="left:84px;top:289px;width:1px;height:14px"></div>
<div class="ln" style="left:84px;top:304px;width:1px;height:14px"></div>
<div class="ln" style="left:84px;top:319px;width:1px;height:14px"></div>
<div class="ln" style="left:84px;top:334px;width:1px;height:15px"></div>
<div class="ln" style="left:84px;top:350px;width:1px;height:14px"></div>
<div class="ln" style="left:84px;top:365px;width:1px;height:15px"></div>
<div class="ln" style="left:84px;top:381px;width:1px;height:15px"></div>
<div class="ln" style="left:84px;top:397px;width:1px;height:14px"></div>
<div class="ln" style="left:84px;top:441px;width:1px;height:14px"></div>
<div class="ln" style="left:84px;top:456px;width:1px;height:15px"></div>
<div class="ln" style="left:84px;top:472px;width:1px;height:15px"></div>
<div class="ln" style="left:84px;top:488px;width:1px;height:15px"></div>
<div class="ln" style="left:84px;top:504px;width:1px;height:14px"></div>
<div class="ln" style="left:84px;top:519px;width:1px;height:15px"></div>
<div class="ln" style="left:84px;top:535px;width:1px;height:14px"></div>
<div class="ln" style="left:84px;top:550px;width:1px;height:14px"></div>
<div class="ln" style="left:220px;top:149px;width:1px;height:15px"></div>
<div class="ln" style="left:220px;top:165px;width:1px;height:15px"></div>
<div class="ln" style="left:220px;top:181px;width:1px;height:14px"></div>
<div class="ln" style="left:220px;top:196px;width:1px;height:15px"></div>
<div class="ln" style="left:220px;top:212px;width:1px;height:14px"></div>
<div class="ln" style="left:220px;top:227px;width:1px;height:15px"></div>
<div class="ln" style="left:220px;top:243px;width:1px;height:14px"></div>
<div class="ln" style="left:220px;top:258px;width:1px;height:14px"></div>
<div class="ln" style="left:220px;top:304px;width:1px;height:14px"></div>
<div class="ln" style="left:220px;top:319px;width:1px;height:14px"></div>
<div class="ln" style="left:220px;top:334px;width:1px;height:15px"></div>
<div class="ln" style="left:220px;top:350px;width:1px;height:14px"></div>
<div class="ln" style="left:220px;top:365px;width:1px;height:15px"></div>
<div class="ln" style="left:220px;top:381px;width:1px;height:15px"></div>
<div class="ln" style="left:220px;top:397px;width:1px;height:14px"></div>
<div class="ln" style="left:220px;top:456px;width:1px;height:15px"></div>
<div class="ln" style="left:220px;top:472px;width:1px;height:15px"></div>
<div class="ln" style="left:220px;top:488px;width:1px;height:15px"></div>
<div class="ln" style="left:220px;top:504px;width:1px;height:14px"></div>
<div class="ln" style="left:220px;top:519px;width:1px;height:15px"></div>
<div class="ln" style="left:220px;top:535px;width:1px;height:14px"></div>
<div class="ln" style="left:220px;top:550px;width:1px;height:14px"></div>
<div class="ln" style="left:390px;top:149px;width:1px;height:15px"></div>
<div class="ln" style="left:390px;top:165px;width:1px;height:15px"></div>
<div class="ln" style="left:390px;top:181px;width:1px;height:14px"></div>
<div class="ln" style="left:390px;top:196px;width:1px;height:15px"></div>
<div class="ln" style="left:390px;top:212px;width:1px;height:14px"></div>
<div class="ln" style="left:390px;top:227px;width:1px;height:15px"></div>
<div class="ln" style="left:390px;top:243px;width:1px;height:14px"></div>
<div class="ln" style="left:390px;top:258px;width:1px;height:14px"></div>
<div class="ln" style="left:390px;top:289px;width:1px;height:14px"></div>
<div class="ln" style="left:390px;top:304px;width:1px;height:14px"></div>
<div class="ln" style="left:390px;top:319px;width:1px;height:14px"></div>
<div class="ln" style="left:390px;top:334px;width:1px;height:15px"></div>
<div class="ln" style="left:390px;top:350px;width:1px;height:14px"></div>
<div class="ln" style="left:390px;top:365px;width:1px;height:15px"></div>
<div class="ln" style="left:390px;top:381px;width:1px;height:15px"></div>
<div class="ln" style="left:390px;top:397px;width:1px;height:14px"></div>
<div class="ln" style="left:390px;top:441px;width:1px;height:14px"></div>
<div class="ln" style="left:390px;top:456px;width:1px;height:15px"></div>
<div class="ln" style="left:390px;top:472px;width:1px;height:15px"></div>
<div class="ln" style="left:390px;top:488px;width:1px;height:15px"></div>
<div class="ln" style="left:390px;top:504px;width:1px;height:14px"></div>
<div class="ln" style="left:390px;top:519px;width:1px;height:15px"></div>
<div class="ln" style="left:390px;top:535px;width:1px;height:14px"></div>
<div class="ln" style="left:390px;top:550px;width:1px;height:14px"></div>
<div class="ln" style="left:602px;top:149px;width:1px;height:15px"></div>
<div class="ln" style="left:602px;top:165px;width:1px;height:15px"></div>
<div class="ln" style="left:602px;top:181px;width:1px;height:14px"></div>
<div class="ln" style="left:602px;top:196px;width:1px;height:15px"></div>
<div class="ln" style="left:602px;top:212px;width:1px;height:14px"></div>
<div class="ln" style="left:602px;top:227px;width:1px;height:15px"></div>
<div class="ln" style="left:602px;top:243px;width:1px;height:14px"></div>
<div class="ln" style="left:602px;top:258px;width:1px;height:14px"></div>
<div class="ln" style="left:602px;top:304px;width:1px;height:14px"></div>
<div class="ln" style="left:602px;top:319px;width:1px;height:14px"></div>
<div class="ln" style="left:602px;top:334px;width:1px;height:15px"></div>
<div class="ln" style="left:602px;top:350px;width:1px;height:14px"></div>
<div class="ln" style="left:602px;top:365px;width:1px;height:15px"></div>
<div class="ln" style="left:602px;top:381px;width:1px;height:15px"></div>
<div class="ln" style="left:602px;top:397px;width:1px;height:14px"></div>
<div class="ln" style="left:770px;top:149px;width:1px;height:15px"></div>
<div class="ln" style="left:770px;top:165px;width:1px;height:15px"></div>
<div class="ln" style="left:770px;top:181px;width:1px;height:14px"></div>
<div class="ln" style="left:770px;top:196px;width:1px;height:15px"></div>
<div class="ln" style="left:770px;top:212px;width:1px;height:14px"></div>
<div class="ln" style="left:770px;top:227px;width:1px;height:45px"></div>
<div class="ln" style="left:121px;top:165px;width:1px;height:15px"></div>
<div class="ln" style="left:121px;top:181px;width:1px;height:14px"></div>
<div class="ln" style="left:121px;top:196px;width:1px;height:15px"></div>
<div class="ln" style="left:121px;top:212px;width:1px;height:14px"></div>
<div class="ln" style="left:121px;top:227px;width:1px;height:15px"></div>
<div class="ln" style="left:121px;top:243px;width:1px;height:14px"></div>
<div class="ln" style="left:121px;top:258px;width:1px;height:14px"></div>
<div class="ln" style="left:121px;top:304px;width:1px;height:14px"></div>
<div class="ln" style="left:121px;top:319px;width:1px;height:14px"></div>
<div class="ln" style="left:121px;top:334px;width:1px;height:15px"></div>
<div class="ln" style="left:121px;top:350px;width:1px;height:14px"></div>
<div class="ln" style="left:121px;top:365px;width:1px;height:15px"></div>
<div class="ln" style="left:121px;top:381px;width:1px;height:15px"></div>
<div class="ln" style="left:121px;top:397px;width:1px;height:14px"></div>
<div class="ln" style="left:121px;top:456px;width:1px;height:15px"></div>
<div class="ln" style="left:121px;top:472px;width:1px;height:15px"></div>
<div class="ln" style="left:121px;top:488px;width:1px;height:15px"></div>
<div class="ln" style="left:121px;top:504px;width:1px;height:14px"></div>
<div class="ln" style="left:121px;top:519px;width:1px;height:15px"></div>
<div class="ln" style="left:121px;top:535px;width:1px;height:14px"></div>
<div class="ln" style="left:121px;top:550px;width:1px;height:14px"></div>
<div class="ln" style="left:154px;top:165px;width:1px;height:15px"></div>
<div class="ln" style="left:154px;top:181px;width:1px;height:14px"></div>
<div class="ln" style="left:154px;top:196px;width:1px;height:15px"></div>
<div class="ln" style="left:154px;top:212px;width:1px;height:14px"></div>
<div class="ln" style="left:154px;top:227px;width:1px;height:15px"></div>
<div class="ln" style="left:154px;top:243px;width:1px;height:14px"></div>
<div class="ln" style="left:154px;top:258px;width:1px;height:14px"></div>
<div class="ln" style="left:154px;top:304px;width:1px;height:14px"></div>
<div class="ln" style="left:154px;top:319px;width:1px;height:14px"></div>
<div class="ln" style="left:154px;top:334px;width:1px;height:15px"></div>
<div class="ln" style="left:154px;top:350px;width:1px;height:14px"></div>
<div class="ln" style="left:154px;top:365px;width:1px;height:15px"></div>
<div class="ln" style="left:154px;top:381px;width:1px;height:15px"></div>
<div class="ln" style="left:154px;top:397px;width:1px;height:14px"></div>
<div class="ln" style="left:154px;top:456px;width:1px;height:15px"></div>
<div class="ln" style="left:154px;top:472px;width:1px;height:15px"></div>
<div class="ln" style="left:154px;top:488px;width:1px;height:15px"></div>
<div class="ln" style="left:154px;top:504px;width:1px;height:14px"></div>
<div class="ln" style="left:154px;top:519px;width:1px;height:15px"></div>
<div class="ln" style="left:154px;top:535px;width:1px;height:14px"></div>
<div class="ln" style="left:154px;top:550px;width:1px;height:14px"></div>
<div class="ln" style="left:187px;top:165px;width:1px;height:15px"></div>
<div class="ln" style="left:187px;top:181px;width:1px;height:14px"></div>
<div class="ln" style="left:187px;top:196px;width:1px;height:15px"></div>
<div class="ln" style="left:187px;top:212px;width:1px;height:14px"></div>
<div class="ln" style="left:187px;top:227px;width:1px;height:15px"></div>
<div class="ln" style="left:187px;top:243px;width:1px;height:14px"></div>
<div class="ln" style="left:187px;top:258px;width:1px;height:14px"></div>
<div class="ln" style="left:187px;top:304px;width:1px;height:14px"></div>
<div class="ln" style="left:187px;top:319px;width:1px;height:14px"></div>
<div class="ln" style="left:187px;top:334px;width:1px;height:15px"></div>
<div class="ln" style="left:187px;top:350px;width:1px;height:14px"></div>
<div class="ln" style="left:187px;top:365px;width:1px;height:15px"></div>
<div class="ln" style="left:187px;top:381px;width:1px;height:15px"></div>
<div class="ln" style="left:187px;top:397px;width:1px;height:14px"></div>
<div class="ln" style="left:187px;top:456px;width:1px;height:15px"></div>
<div class="ln" style="left:187px;top:472px;width:1px;height:15px"></div>
<div class="ln" style="left:187px;top:488px;width:1px;height:15px"></div>
<div class="ln" style="left:187px;top:504px;width:1px;height:14px"></div>
<div class="ln" style="left:187px;top:519px;width:1px;height:15px"></div>
<div class="ln" style="left:187px;top:535px;width:1px;height:14px"></div>
<div class="ln" style="left:187px;top:550px;width:1px;height:14px"></div>
<div class="ln" style="left:249px;top:165px;width:1px;height:15px"></div>
<div class="ln" style="left:249px;top:181px;width:1px;height:14px"></div>
<div class="ln" style="left:249px;top:196px;width:1px;height:15px"></div>
<div class="ln" style="left:249px;top:212px;width:1px;height:14px"></div>
<div class="ln" style="left:249px;top:227px;width:1px;height:15px"></div>
<div class="ln" style="left:249px;top:243px;width:1px;height:14px"></div>
<div class="ln" style="left:249px;top:258px;width:1px;height:14px"></div>
<div class="ln" style="left:249px;top:289px;width:1px;height:14px"></div>
<div class="ln" style="left:249px;top:304px;width:1px;height:14px"></div>
<div class="ln" style="left:249px;top:319px;width:1px;height:14px"></div>
<div class="ln" style="left:249px;top:334px;width:1px;height:15px"></div>
<div class="ln" style="left:249px;top:350px;width:1px;height:14px"></div>
<div class="ln" style="left:249px;top:365px;width:1px;height:15px"></div>
<div class="ln" style="left:249px;top:381px;width:1px;height:15px"></div>
<div class="ln" style="left:249px;top:397px;width:1px;height:14px"></div>
<div class="ln" style="left:249px;top:456px;width:1px;height:15px"></div>
<div class="ln" style="left:249px;top:472px;width:1px;height:15px"></div>
<div class="ln" style="left:249px;top:488px;width:1px;height:15px"></div>
<div class="ln" style="left:249px;top:504px;width:1px;height:14px"></div>
<div class="ln" style="left:249px;top:519px;width:1px;height:15px"></div>
<div class="ln" style="left:249px;top:535px;width:1px;height:14px"></div>
<div class="ln" style="left:249px;top:550px;width:1px;height:14px"></div>
<div class="ln" style="left:288px;top:165px;width:1px;height:15px"></div>
<div class="ln" style="left:288px;top:181px;width:1px;height:14px"></div>
<div class="ln" style="left:288px;top:196px;width:1px;height:15px"></div>
<div class="ln" style="left:288px;top:212px;width:1px;height:14px"></div>
<div class="ln" style="left:288px;top:227px;width:1px;height:15px"></div>
<div class="ln" style="left:288px;top:243px;width:1px;height:14px"></div>
<div class="ln" style="left:288px;top:258px;width:1px;height:14px"></div>
<div class="ln" style="left:288px;top:304px;width:1px;height:14px"></div>
<div class="ln" style="left:288px;top:319px;width:1px;height:14px"></div>
<div class="ln" style="left:288px;top:334px;width:1px;height:15px"></div>
<div class="ln" style="left:288px;top:350px;width:1px;height:14px"></div>
<div class="ln" style="left:288px;top:365px;width:1px;height:15px"></div>
<div class="ln" style="left:288px;top:381px;width:1px;height:15px"></div>
<div class="ln" style="left:288px;top:397px;width:1px;height:14px"></div>
<div class="ln" style="left:288px;top:441px;width:1px;height:14px"></div>
<div class="ln" style="left:288px;top:456px;width:1px;height:15px"></div>
<div class="ln" style="left:288px;top:472px;width:1px;height:15px"></div>
<div class="ln" style="left:288px;top:488px;width:1px;height:15px"></div>
<div class="ln" style="left:288px;top:504px;width:1px;height:14px"></div>
<div class="ln" style="left:288px;top:519px;width:1px;height:15px"></div>
<div class="ln" style="left:288px;top:535px;width:1px;height:14px"></div>
<div class="ln" style="left:288px;top:550px;width:1px;height:14px"></div>
<div class="ln" style="left:322px;top:165px;width:1px;height:15px"></div>
<div class="ln" style="left:322px;top:181px;width:1px;height:14px"></div>
<div class="ln" style="left:322px;top:196px;width:1px;height:15px"></div>
<div class="ln" style="left:322px;top:212px;width:1px;height:14px"></div>
<div class="ln" style="left:322px;top:227px;width:1px;height:15px"></div>
<div class="ln" style="left:322px;top:243px;width:1px;height:14px"></div>
<div class="ln" style="left:322px;top:258px;width:1px;height:14px"></div>
<div class="ln" style="left:322px;top:304px;width:1px;height:14px"></div>
<div class="ln" style="left:322px;top:319px;width:1px;height:14px"></div>
<div class="ln" style="left:322px;top:334px;width:1px;height:15px"></div>
<div class="ln" style="left:322px;top:350px;width:1px;height:14px"></div>
<div class="ln" style="left:322px;top:365px;width:1px;height:15px"></div>
<div class="ln" style="left:322px;top:381px;width:1px;height:15px"></div>
<div class="ln" style="left:322px;top:397px;width:1px;height:14px"></div>
<div class="ln" style="left:322px;top:456px;width:1px;height:15px"></div>
<div class="ln" style="left:322px;top:472px;width:1px;height:15px"></div>
<div class="ln" style="left:322px;top:488px;width:1px;height:15px"></div>
<div class="ln" style="left:322px;top:504px;width:1px;height:14px"></div>
<div class="ln" style="left:322px;top:519px;width:1px;height:15px"></div>
<div class="ln" style="left:322px;top:535px;width:1px;height:14px"></div>
<div class="ln" style="left:322px;top:550px;width:1px;height:14px"></div>
<div class="ln" style="left:356px;top:165px;width:1px;height:15px"></div>
<div class="ln" style="left:356px;top:181px;width:1px;height:14px"></div>
<div class="ln" style="left:356px;top:196px;width:1px;height:15px"></div>
<div class="ln" style="left:356px;top:212px;width:1px;height:14px"></div>
<div class="ln" style="left:356px;top:227px;width:1px;height:15px"></div>
<div class="ln" style="left:356px;top:243px;width:1px;height:14px"></div>
<div class="ln" style="left:356px;top:258px;width:1px;height:14px"></div>
<div class="ln" style="left:356px;top:304px;width:1px;height:14px"></div>
<div class="ln" style="left:356px;top:319px;width:1px;height:14px"></div>
<div class="ln" style="left:356px;top:334px;width:1px;height:15px"></div>
<div class="ln" style="left:356px;top:350px;width:1px;height:14px"></div>
<div class="ln" style="left:356px;top:365px;width:1px;height:15px"></div>
<div class="ln" style="left:356px;top:381px;width:1px;height:15px"></div>
<div class="ln" style="left:356px;top:397px;width:1px;height:14px"></div>
<div class="ln" style="left:356px;top:456px;width:1px;height:15px"></div>
<div class="ln" style="left:356px;top:472px;width:1px;height:15px"></div>
<div class="ln" style="left:356px;top:488px;width:1px;height:15px"></div>
<div class="ln" style="left:356px;top:504px;width:1px;height:14px"></div>
<div class="ln" style="left:356px;top:519px;width:1px;height:15px"></div>
<div class="ln" style="left:356px;top:535px;width:1px;height:14px"></div>
<div class="ln" style="left:356px;top:550px;width:1px;height:14px"></div>
<div class="ln" style="left:739px;top:165px;width:1px;height:15px"></div>
<div class="ln" style="left:739px;top:181px;width:1px;height:14px"></div>
<div class="ln" style="left:739px;top:196px;width:1px;height:15px"></div>
<div class="ln" style="left:739px;top:212px;width:1px;height:14px"></div>
<div class="ln" style="left:739px;top:227px;width:1px;height:15px"></div>
<div class="ln" style="left:739px;top:243px;width:1px;height:14px"></div>
<div class="ln" style="left:739px;top:258px;width:1px;height:14px"></div>
<div class="ln" style="left:739px;top:289px;width:1px;height:14px"></div>
<div class="ln" style="left:739px;top:304px;width:1px;height:14px"></div>
<div class="ln" style="left:739px;top:319px;width:1px;height:14px"></div>
<div class="ln" style="left:739px;top:334px;width:1px;height:15px"></div>
<div class="ln" style="left:739px;top:350px;width:1px;height:14px"></div>
<div class="ln" style="left:739px;top:365px;width:1px;height:15px"></div>
<div class="ln" style="left:739px;top:381px;width:1px;height:30px"></div>
<div class="ln" style="left:442px;top:165px;width:1px;height:15px"></div>
<div class="ln" style="left:442px;top:181px;width:1px;height:14px"></div>
<div class="ln" style="left:442px;top:196px;width:1px;height:15px"></div>
<div class="ln" style="left:442px;top:212px;width:1px;height:14px"></div>
<div class="ln" style="left:442px;top:227px;width:1px;height:15px"></div>
<div class="ln" style="left:442px;top:243px;width:1px;height:14px"></div>
<div class="ln" style="left:442px;top:258px;width:1px;height:14px"></div>
<div class="ln" style="left:442px;top:304px;width:1px;height:14px"></div>
<div class="ln" style="left:442px;top:319px;width:1px;height:14px"></div>
<div class="ln" style="left:442px;top:334px;width:1px;height:15px"></div>
<div class="ln" style="left:442px;top:350px;width:1px;height:14px"></div>
<div class="ln" style="left:442px;top:365px;width:1px;height:15px"></div>
<div class="ln" style="left:442px;top:381px;width:1px;height:15px"></div>
<div class="ln" style="left:442px;top:397px;width:1px;height:14px"></div>
<div class="ln" style="left:474px;top:165px;width:1px;height:15px"></div>
<div class="ln" style="left:474px;top:181px;width:1px;height:14px"></div>
<div class="ln" style="left:474px;top:196px;width:1px;height:15px"></div>
<div class="ln" style="left:474px;top:212px;width:1px;height:14px"></div>
<div class="ln" style="left:474px;top:227px;width:1px;height:15px"></div>
<div class="ln" style="left:474px;top:243px;width:1px;height:14px"></div>
<div class="ln" style="left:474px;top:258px;width:1px;height:14px"></div>
<div class="ln" style="left:474px;top:304px;width:1px;height:14px"></div>
<div class="ln" style="left:474px;top:319px;width:1px;height:14px"></div>
<div class="ln" style="left:474px;top:334px;width:1px;height:15px"></div>
<div class="ln" style="left:474px;top:350px;width:1px;height:14px"></div>
<div class="ln" style="left:474px;top:365px;width:1px;height:15px"></div>
<div class="ln" style="left:474px;top:381px;width:1px;height:15px"></div>
<div class="ln" style="left:474px;top:397px;width:1px;height:14px"></div>
<div class="ln" style="left:505px;top:165px;width:1px;height:15px"></div>
<div class="ln" style="left:505px;top:181px;width:1px;height:14px"></div>
<div class="ln" style="left:505px;top:196px;width:1px;height:15px"></div>
<div class="ln" style="left:505px;top:212px;width:1px;height:14px"></div>
<div class="ln" style="left:505px;top:227px;width:1px;height:15px"></div>
<div class="ln" style="left:505px;top:243px;width:1px;height:14px"></div>
<div class="ln" style="left:505px;top:258px;width:1px;height:14px"></div>
<div class="ln" style="left:505px;top:304px;width:1px;height:14px"></div>
<div class="ln" style="left:505px;top:319px;width:1px;height:14px"></div>
<div class="ln" style="left:505px;top:334px;width:1px;height:15px"></div>
<div class="ln" style="left:505px;top:350px;width:1px;height:14px"></div>
<div class="ln" style="left:505px;top:365px;width:1px;height:15px"></div>
<div class="ln" style="left:505px;top:381px;width:1px;height:15px"></div>
<div class="ln" style="left:505px;top:397px;width:1px;height:14px"></div>
<div class="ln" style="left:539px;top:165px;width:1px;height:15px"></div>
<div class="ln" style="left:539px;top:181px;width:1px;height:14px"></div>
<div class="ln" style="left:539px;top:196px;width:1px;height:15px"></div>
<div class="ln" style="left:539px;top:212px;width:1px;height:14px"></div>
<div class="ln" style="left:539px;top:227px;width:1px;height:15px"></div>
<div class="ln" style="left:539px;top:243px;width:1px;height:14px"></div>
<div class="ln" style="left:539px;top:258px;width:1px;height:14px"></div>
<div class="ln" style="left:539px;top:304px;width:1px;height:14px"></div>
<div class="ln" style="left:539px;top:319px;width:1px;height:14px"></div>
<div class="ln" style="left:539px;top:334px;width:1px;height:15px"></div>
<div class="ln" style="left:539px;top:350px;width:1px;height:14px"></div>
<div class="ln" style="left:539px;top:365px;width:1px;height:15px"></div>
<div class="ln" style="left:539px;top:381px;width:1px;height:15px"></div>
<div class="ln" style="left:539px;top:397px;width:1px;height:14px"></div>
<div class="ln" style="left:573px;top:165px;width:1px;height:15px"></div>
<div class="ln" style="left:573px;top:181px;width:1px;height:14px"></div>
<div class="ln" style="left:573px;top:196px;width:1px;height:15px"></div>
<div class="ln" style="left:573px;top:212px;width:1px;height:14px"></div>
<div class="ln" style="left:573px;top:227px;width:1px;height:15px"></div>
<div class="ln" style="left:573px;top:243px;width:1px;height:14px"></div>
<div class="ln" style="left:573px;top:258px;width:1px;height:14px"></div>
<div class="ln" style="left:573px;top:289px;width:1px;height:14px"></div>
<div class="ln" style="left:573px;top:304px;width:1px;height:14px"></div>
<div class="ln" style="left:573px;top:319px;width:1px;height:14px"></div>
<div class="ln" style="left:573px;top:334px;width:1px;height:15px"></div>
<div class="ln" style="left:573px;top:350px;width:1px;height:14px"></div>
<div class="ln" style="left:573px;top:365px;width:1px;height:15px"></div>
<div class="ln" style="left:573px;top:381px;width:1px;height:15px"></div>
<div class="ln" style="left:573px;top:397px;width:1px;height:14px"></div>
<div class="ln" style="left:634px;top:165px;width:1px;height:15px"></div>
<div class="ln" style="left:634px;top:181px;width:1px;height:14px"></div>
<div class="ln" style="left:634px;top:196px;width:1px;height:15px"></div>
<div class="ln" style="left:634px;top:212px;width:1px;height:14px"></div>
<div class="ln" style="left:634px;top:227px;width:1px;height:15px"></div>
<div class="ln" style="left:634px;top:243px;width:1px;height:14px"></div>
<div class="ln" style="left:634px;top:258px;width:1px;height:14px"></div>
<div class="ln" style="left:634px;top:304px;width:1px;height:14px"></div>
<div class="ln" style="left:634px;top:319px;width:1px;height:14px"></div>
<div class="ln" style="left:634px;top:334px;width:1px;height:15px"></div>
<div class="ln" style="left:634px;top:350px;width:1px;height:14px"></div>
<div class="ln" style="left:634px;top:365px;width:1px;height:15px"></div>
<div class="ln" style="left:634px;top:381px;width:1px;height:15px"></div>
<div class="ln" style="left:634px;top:397px;width:1px;height:14px"></div>
<div class="ln" style="left:671px;top:165px;width:1px;height:15px"></div>
<div class="ln" style="left:671px;top:181px;width:1px;height:14px"></div>
<div class="ln" style="left:671px;top:196px;width:1px;height:15px"></div>
<div class="ln" style="left:671px;top:212px;width:1px;height:14px"></div>
<div class="ln" style="left:671px;top:227px;width:1px;height:15px"></div>
<div class="ln" style="left:671px;top:243px;width:1px;height:14px"></div>
<div class="ln" style="left:671px;top:258px;width:1px;height:14px"></div>
<div class="ln" style="left:671px;top:304px;width:1px;height:14px"></div>
<div class="ln" style="left:671px;top:319px;width:1px;height:14px"></div>
<div class="ln" style="left:671px;top:334px;width:1px;height:15px"></div>
<div class="ln" style="left:671px;top:350px;width:1px;height:14px"></div>
<div class="ln" style="left:671px;top:365px;width:1px;height:15px"></div>
<div class="ln" style="left:671px;top:381px;width:1px;height:15px"></div>
<div class="ln" style="left:671px;top:397px;width:1px;height:14px"></div>
<div class="ln" style="left:706px;top:165px;width:1px;height:15px"></div>
<div class="ln" style="left:706px;top:181px;width:1px;height:14px"></div>
<div class="ln" style="left:706px;top:196px;width:1px;height:15px"></div>
<div class="ln" style="left:706px;top:212px;width:1px;height:14px"></div>
<div class="ln" style="left:706px;top:227px;width:1px;height:15px"></div>
<div class="ln" style="left:706px;top:243px;width:1px;height:14px"></div>
<div class="ln" style="left:706px;top:258px;width:1px;height:14px"></div>
<div class="ln" style="left:706px;top:304px;width:1px;height:14px"></div>
<div class="ln" style="left:706px;top:319px;width:1px;height:14px"></div>
<div class="ln" style="left:706px;top:334px;width:1px;height:15px"></div>
<div class="ln" style="left:706px;top:350px;width:1px;height:14px"></div>
<div class="ln" style="left:706px;top:365px;width:1px;height:15px"></div>
<div class="ln" style="left:706px;top:381px;width:1px;height:15px"></div>
<div class="ln" style="left:706px;top:397px;width:1px;height:14px"></div>
<div class="sw" style="top:441px;height:14px;background:#FFF2CC"></div>
<div class="sw" style="top:455px;height:16px;background:#92D050"></div>
<div class="sw" style="top:471px;height:16px;background:#C5E0B4"></div>
<div class="sw" style="top:487px;height:31px;background:#BF8F00"></div>
<div class="sw" style="top:518px;height:16px;background:#F4B183"></div>
<div class="sw" style="top:534px;height:15px;background:#5B9BD5"></div>
<div class="lg" style="top:441.5px">cursuri</div>
<div class="lg" style="top:457.0px">vacanță</div>
<div class="lg" style="top:472.5px">vacanță - o săptămână, la decizia ISJ/ISMB</div>
<div class="lg" style="top:488.0px">ultima zi de cursuri - clasele a XII-a zi, a XIII-a seral</div>
<div class="lg" style="top:503.5px">și frecvență redusă</div>
<div class="lg" style="top:519.0px">ultima zi de cursuri - clasa a VIII-a</div>
<div class="lg" style="top:534.5px">sărbători legale/zile nelucrătoare</div>
<div class="lg" style="top:550px;left:419px">*Ziua educației/**Paștele catolic/***Paștele ortodox</div>
<svg style="position:absolute;left:56.4px;top:620px" width="40" height="40" viewBox="0 0 40 40">
<defs><path id="sealT" d="M 5.6 22 A 14.6 14.6 0 1 1 34.4 22" /><path id="sealB" d="M 3.5 18 A 16.5 16.5 0 0 0 36.5 18" /></defs>
<circle cx="20" cy="20" r="19.1" fill="#1F4F9C"/>
<circle cx="20" cy="20" r="11.7" fill="none" stroke="#E8EEF8" stroke-width="0.9"/>
<text font-family="Liberation Serif" font-size="5.6" font-weight="bold" fill="#DCE5F3" letter-spacing="0.9" text-anchor="middle"><textPath href="#sealT" startOffset="50%">GUVERNUL</textPath></text>
<text font-family="Liberation Serif" font-size="5.6" font-weight="bold" fill="#DCE5F3" letter-spacing="1.1" text-anchor="middle"><textPath href="#sealB" startOffset="50%">ROMÂNIEI</textPath></text>
<circle cx="4.7" cy="19.6" r="0.8" fill="#DCE5F3"/><circle cx="35.3" cy="19.6" r="0.8" fill="#DCE5F3"/>
<path d="M12 11.5 L15 10.5 L17.5 13 L19 10.5 L20 9.5 L21 10.5 L22.5 13 L25 10.5 L28 11.5 L27.5 20 L26 25 L22 28 L20 30 L18 28 L14 25 L12.5 20 Z" fill="#F2F5FB"/>
<path d="M17.5 16.5 L22.5 16.5 L22.5 22 L20 24.5 L17.5 22 Z" fill="#9DB3D9"/>
<path d="M15 13.5 L15 22 M25 13.5 L25 22" stroke="#9DB3D9" stroke-width="0.7"/>
</svg>
<div class="t" style="left:101px;top:631px;font-family:'Liberation Serif',serif;font-size:11px;line-height:9.4px;color:#5A69A3;transform:scaleX(0.89);transform-origin:0 0;">MINISTERUL EDUCAȚIEI<br>ȘI CERCETĂRII</div>
<div style="position:absolute;left:274px;top:637px;width:417px;height:1.3px;background:#2B4D7E"></div>
<div class="t" style="left:715px;top:629px;font-size:16.5px;font-weight:bold;color:#0B4A8E;">edu.ro</div>
</body></html>
